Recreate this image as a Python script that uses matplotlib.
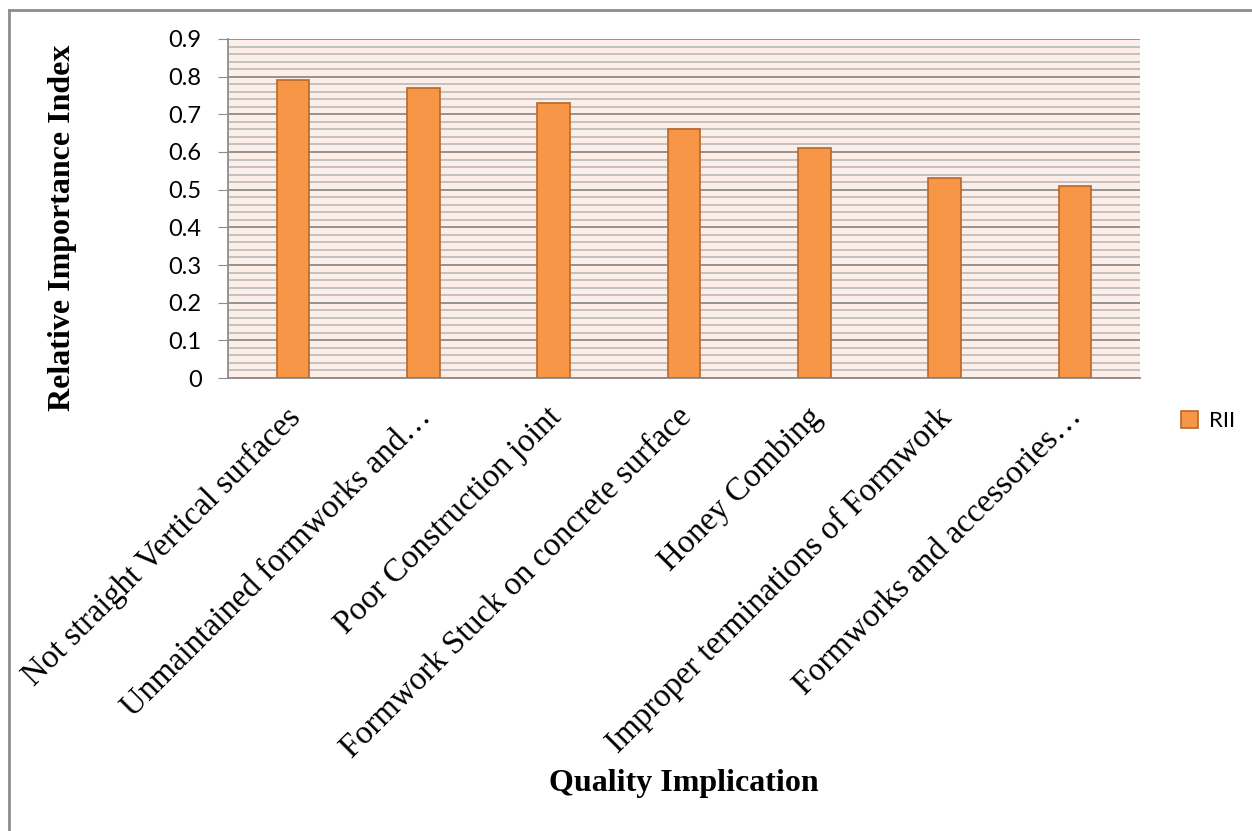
import numpy as np
import matplotlib.pyplot as plt
from matplotlib.lines import Line2D
from matplotlib.ticker import MultipleLocator
from matplotlib.transforms import ScaledTranslation

# ---------------- dados ----------------
categories = [
    "Not straight Vertical surfaces",
    "Unmaintained formworks and\u2026",
    "Poor Construction joint",
    "Formwork Stuck on concrete surface",
    "Honey Combing",
    "Improper terminations of Formwork",
    "Formworks and accessories\u2026",
]
rii = [0.79, 0.77, 0.73, 0.66, 0.61, 0.53, 0.51]
y_ticks = [0, 0.1, 0.2, 0.3, 0.4, 0.5, 0.6, 0.7, 0.8, 0.9]

# ---------------- figura ----------------
fig = plt.figure(figsize=(12.52, 8.31), dpi=100)
ax = fig.add_axes([0.1821, 0.5451, 0.7284, 0.4080])
ax.set_facecolor('#FDEEE8')

x = np.arange(len(categories))
ax.bar(x, rii, width=0.25, color='#F79646', edgecolor='#B8672A',
       linewidth=1.2, label='RII', zorder=3)

ax.set_xlim(-0.5, len(categories) - 0.5)
ax.set_ylim(0, 0.9)
ax.set_yticks(y_ticks)
ax.set_yticklabels([f"{v:g}" for v in y_ticks], fontsize=17, family='Lato')
ax.yaxis.set_minor_locator(MultipleLocator(0.02))

# grade principal e secundaria
ax.grid(axis='y', which='major', color='#8C8C8C', linewidth=1.3, zorder=1)
ax.grid(axis='y', which='minor', color='#BDBDBD', linewidth=1.3, zorder=1)
ax.tick_params(axis='y', which='major', length=7, color='#8C8C8C', pad=12)
ax.tick_params(axis='y', which='minor', length=0)

ax.set_xticks(x)
ax.set_xticklabels(categories, rotation=45, ha='right', rotation_mode='anchor',
                   fontsize=23.5, family='Liberation Serif')
ax.tick_params(axis='x', length=0, pad=12)
# desloca os rotulos inclinados um pouco para a esquerda e para baixo
shift = ScaledTranslation(-8 / 100, -7 / 100, fig.dpi_scale_trans)
for lbl in ax.get_xticklabels():
    lbl.set_transform(lbl.get_transform() + shift)

for side in ['top', 'right']:
    ax.spines[side].set_visible(False)
ax.spines['left'].set_color('#8C8C8C')
ax.spines['left'].set_linewidth(1.3)
ax.spines['bottom'].set_color('#8C8C8C')
ax.spines['bottom'].set_linewidth(1.3)

fig.text(0.050, 0.7255, 'Relative Importance Index', rotation=90,
         ha='center', va='center', fontsize=23, fontweight='bold',
         family='Liberation Serif')
fig.text(0.5463, 0.0577, 'Quality Implication', ha='center', va='center',
         fontsize=23, fontweight='bold', family='Liberation Serif')

fig.legend(loc='center left', bbox_to_anchor=(0.927, 0.4934), frameon=False,
           handlelength=0.8, handleheight=0.8, handletextpad=0.5,
           prop={'family': 'Lato', 'size': 16})

# moldura externa (so topo e esquerda aparecem)
fig.add_artist(Line2D([0.0068, 1.0], [0.988, 0.988], color='#8C8C8C',
                      linewidth=2, transform=fig.transFigure))
fig.add_artist(Line2D([0.0068, 0.0068], [0.0, 0.988], color='#8C8C8C',
                      linewidth=2, transform=fig.transFigure))

fig.savefig('out.png', dpi=100)
